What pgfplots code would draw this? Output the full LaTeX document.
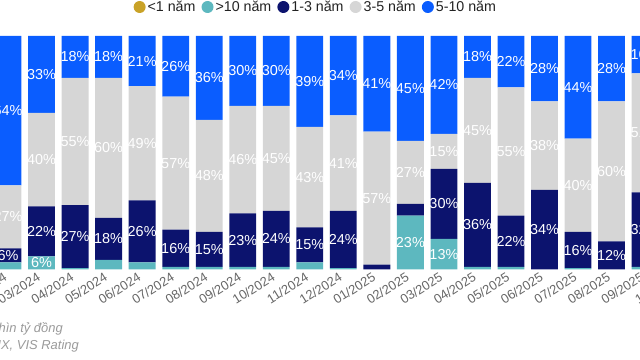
\documentclass[border=0pt]{standalone}
\usepackage{pgfplots}
\pgfplotsset{compat=1.18}
\usepackage{pgfplotstable}
\usepackage{fontspec}
\setmainfont{Liberation Sans}

\definecolor{cgold}{HTML}{C9A227}
\definecolor{cteal}{HTML}{5DB8BF}
\definecolor{cnavy}{HTML}{0C136E}
\definecolor{cgrey}{HTML}{D6D6D6}
\definecolor{cblue}{HTML}{0A5DFF}
\definecolor{tickgrey}{HTML}{666666}
\definecolor{footgrey}{HTML}{9A9A9A}
\definecolor{legtext}{HTML}{222222}

% x: month index (0 = 02/2024)
% u: <1 nam, t: >10 nam, n: 1-3 nam, g: 3-5 nam, b: 5-10 nam
\pgfplotstableread{
x  u  t    n    g    b
0  0  3    6    27   64
1  0  5.5  21.5 40   33
2  0  0.5  27   54.5 18
3  0  4    18   60   18
4  0  3    26.5 49   21.5
5  0  1    16   57   26
6  0  1    15   48   36
7  0  1    23   46   30
8  0  1    24   45   30
9  0  3    15   43   39
10 0  0.5  24.5 41   34
11 0  0    2    57   41
12 0  23   5    27   45
13 0  13   30   15   42
14 0  1    36   45   18
15 0  1    22   55   22
16 0  0    34   38   28
17 0  0.5  15.5 40   44
18 0  0    12   60   28
19 0  1    32   51   16
}\data

% printed labels: x, centre of the segment, label value
\pgfplotstableread{
x  y     l
1  2.75  6
12 11.5  23
13 6.5   13
}\labteal
\pgfplotstableread{
x  y     l
0  6     6
1  16.25 22
2  14    27
3  13    18
4  16.25 26
5  9     16
6  8.5   15
7  12.5  23
8  13    24
9  10.5  15
10 12.75 24
13 28    30
14 19    36
15 12    22
16 17    34
17 8.25  16
18 6     12
19 17    32
}\labnavy
\pgfplotstableread{
x  y     l
0  22.5  27
1  47    40
2  54.75 55
3  52    60
4  54    49
5  45.5  57
6  40    48
7  47    46
8  47.5  45
9  39.5  43
10 45.5  41
11 30.5  57
12 41.5  27
13 50.5  15
14 59.5  45
15 50.5  55
16 53    38
17 36    40
18 42    60
19 58.5  51
}\labgrey
\pgfplotstableread{
x  y     l
0  68    64
1  83.5  33
2  91    18
3  91    18
4  89.25 21
5  87    26
6  82    36
7  85    30
8  85    30
9  80.5  39
10 83    34
11 79.5  41
12 77.5  45
13 79    42
14 91    18
15 89    22
16 86    28
17 78    44
18 86    28
19 92    16
}\labblue

\pgfplotsset{
  my legend/.style={legend image code/.code={\fill[##1] (0bp,0bp) circle (6bp);}},
  frame/.style={at={(-25.5bp,90.7bp)}, anchor=south west,
    scale only axis, width=720.9bp, height=233.3bp,
    xmin=-1, xmax=20.5, ymin=0, ymax=100},
  lab/.style={draw=none, mark=none, nodes near coords={\pgfplotspointmeta\%},
    point meta=explicit symbolic,
    every node near coord/.append style={font=\fontsize{14.5}{14.5}\selectfont, text=white, anchor=center, inner sep=0pt}},
}

\begin{document}
\begin{tikzpicture}
\begin{scope}
\clip (0,0) rectangle (640bp,360bp);
\begin{axis}[
  frame,
  ybar stacked, bar width=0.8,
  axis line style={draw=none},
  hide y axis,
  xtick={-1,0,...,20},
  xticklabels={01/2024,02/2024,03/2024,04/2024,05/2024,06/2024,07/2024,08/2024,09/2024,10/2024,11/2024,12/2024,01/2025,02/2025,03/2025,04/2025,05/2025,06/2025,07/2025,08/2025,09/2025,10/2025},
  major tick length=0,
  xticklabel style={xshift=-5bp, yshift=-1bp, rotate=32, anchor=north east, font=\fontsize{13}{13}\selectfont, text=tickgrey, inner sep=1bp},
  legend style={at={(0.4735,1.1243)}, anchor=center, draw=none, fill=none,
    legend columns=-1, font=\fontsize{14.3}{14.3}\selectfont, text=legtext,
    /tikz/every even column/.append style={column sep=4bp}},
]
\addplot[fill=cgold, draw=none, my legend] table[x=x,y=u]{\data};
\addlegendentry{<1 năm}
\addplot[fill=cteal, draw=none, my legend] table[x=x,y=t]{\data};
\addlegendentry{>10 năm}
\addplot[fill=cnavy, draw=none, my legend] table[x=x,y=n]{\data};
\addlegendentry{1-3 năm}
\addplot[fill=cgrey, draw=none, my legend] table[x=x,y=g]{\data};
\addlegendentry{3-5 năm}
\addplot[fill=cblue, draw=none, my legend] table[x=x,y=b]{\data};
\addlegendentry{5-10 năm}
\end{axis}
\begin{axis}[frame, hide axis, clip=false]
\addplot[lab] table[x=x,y=y,meta=l]{\labteal};
\addplot[lab] table[x=x,y=y,meta=l]{\labnavy};
\addplot[lab] table[x=x,y=y,meta=l]{\labgrey};
\addplot[lab] table[x=x,y=y,meta=l]{\labblue};
\end{axis}
\node[anchor=base east, inner sep=0, font=\fontsize{13}{13}\selectfont\itshape, text=footgrey] at (63bp,27.3bp) {Đơn vị: nghìn tỷ đồng};
\node[anchor=base east, inner sep=0, font=\fontsize{13}{13}\selectfont\itshape, text=footgrey] at (79bp,10.7bp) {Nguồn: HNX, VIS Rating};
\end{scope}
\pgfresetboundingbox
\path[use as bounding box] (0,0) rectangle (640bp,360bp);
\end{tikzpicture}
\end{document}
